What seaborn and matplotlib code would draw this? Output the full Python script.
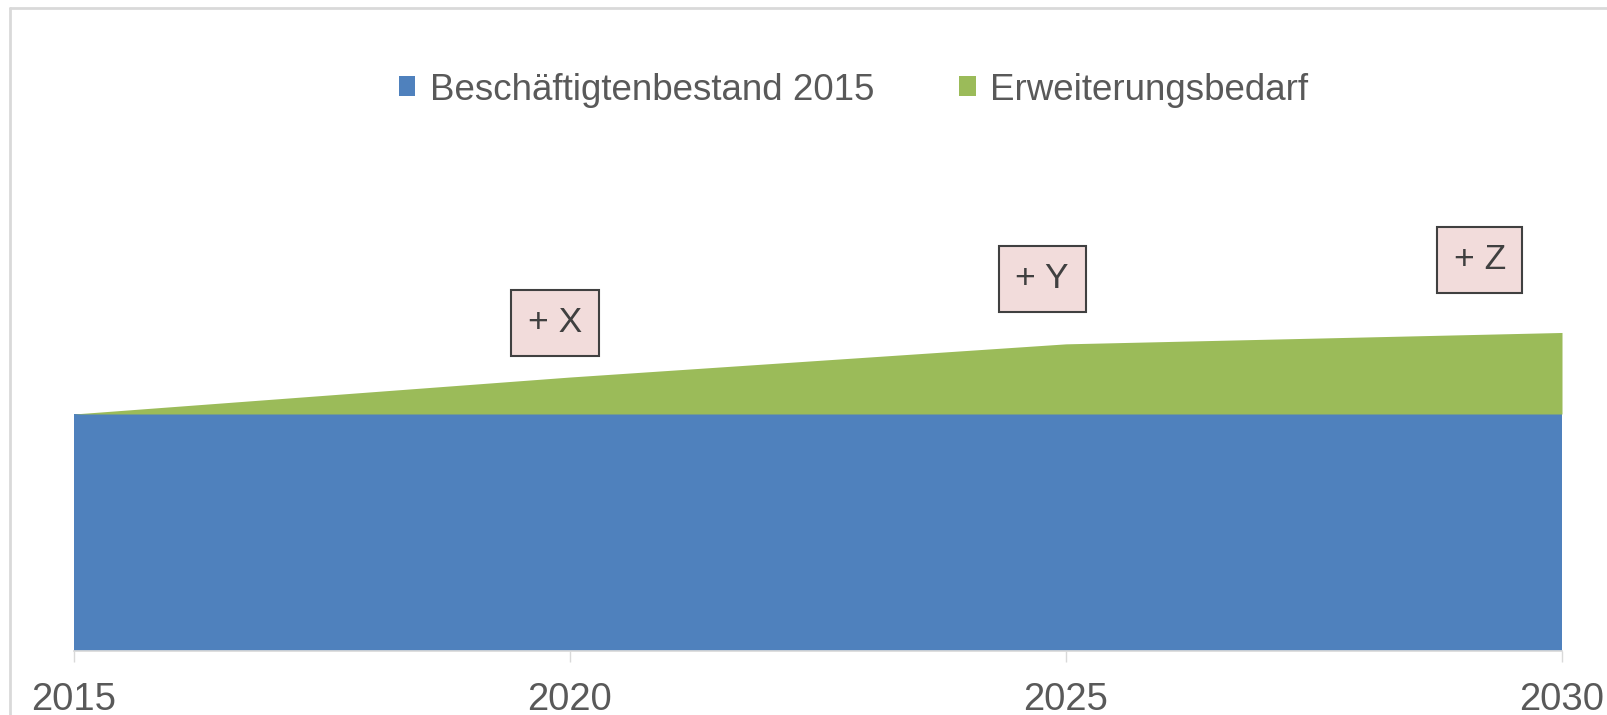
import matplotlib
matplotlib.use("Agg")
import matplotlib.pyplot as plt
import seaborn as sns
from matplotlib.lines import Line2D

# data (Beschäftigtenbestand = 100)
years = [2015, 2020, 2025, 2030]
bestand = [100, 100, 100, 100]
erweiterung = [0, 15.6, 29.6, 34.4]
series = ["Beschäftigtenbestand 2015", "Erweiterungsbedarf"]
tick_years = [2015, 2020, 2025, 2030]
marks = ["+ X", "+ Y", "+ Z"]
mark_x = [2019.85, 2024.76, 2029.17]
mark_y = [138.5, 157, 165]

BLUE = "#4f81bd"
GREEN = "#9bbb59"
GREY = "#595959"
LIGHT = "#d9d9d9"

sns.set_theme(style="white")
plt.rcParams["font.family"] = ["Liberation Sans", "DejaVu Sans"]

fig = plt.figure(figsize=(16.08, 7.15), dpi=100)
ax = fig.add_axes([73.8 / 1608, 64 / 715, 1488.2 / 1608, 592.5 / 715])

palette = sns.color_palette([BLUE, GREEN])
ax.stackplot(years, bestand, erweiterung, colors=palette, labels=series, linewidth=0)

ax.set_xlim(2015, 2030)
ax.set_ylim(0, 250)
ax.set_xticks(tick_years)
ax.set_yticks([])
for s in ["top", "left", "right"]:
    ax.spines[s].set_visible(False)
ax.spines["bottom"].set_color(LIGHT)
ax.tick_params(axis="x", bottom=True, length=8, width=1, color=LIGHT,
               pad=14, labelsize=27.5, labelcolor=GREY)

# annotation boxes
for txt, x, y in zip(marks, mark_x, mark_y):
    ax.text(x, y, txt, ha="center", va="center", fontsize=25.5, color="#404040",
            bbox=dict(boxstyle="square,pad=0.47", fc="#f2dcdb", ec="#404040", lw=1.5))

# legend on top
handles, labels = ax.get_legend_handles_labels()
fig.legend(handles, labels, loc="center", bbox_to_anchor=(853.5 / 1608, 1 - 90 / 715),
           ncol=2, frameon=False, fontsize=26.5, handlelength=0.45, handleheight=0.45,
           handletextpad=0.4, columnspacing=2.3, labelcolor=GREY)

# light frame of the chart area (top and left edges visible)
fig.add_artist(Line2D([10 / 1608, 1], [1 - 8 / 715] * 2, color=LIGHT, lw=2,
                      transform=fig.transFigure))
fig.add_artist(Line2D([10 / 1608] * 2, [0, 1 - 8 / 715], color=LIGHT, lw=2,
                      transform=fig.transFigure))

fig.savefig("out.png", dpi=100)
plt.close()
